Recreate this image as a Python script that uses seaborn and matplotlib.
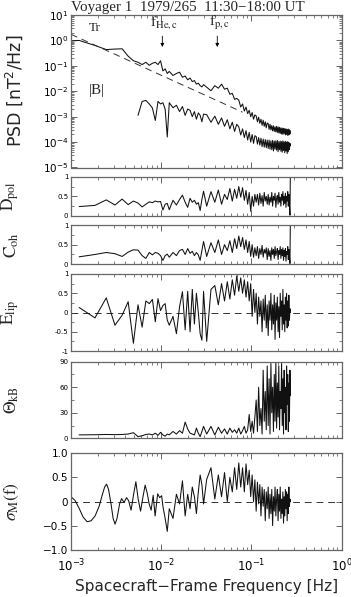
# Voyager 1 field spectra: trace/|B| PSD plus polarization diagnostics vs frequency

import numpy as np
import matplotlib
matplotlib.use("Agg")
import matplotlib.pyplot as plt
from matplotlib.ticker import LogLocator, NullFormatter, FixedLocator, FixedFormatter
import seaborn as sns

# ── 1. Data ──────────────────────────────────────────────────────────────────
BIN_WIDTH = 0.000615  # Hz, spacing of the spectral estimates

bins = [2, 3, 4, 5, 6, 7, 8, 9, 10, 11,
        12, 13, 14, 15, 16, 17, 18, 19, 20,
        22, 24, 26, 28, 30, 32, 34, 36, 38, 40, 42, 44, 46, 48,
        52, 58, 64, 70, 76, 82, 88, 94, 100, 106, 112,
        118, 124, 130, 136, 142, 148, 154, 160, 166, 172, 178,
        184, 190, 196, 202, 208, 214, 220, 226, 232, 238, 244,
        250, 256, 262, 268, 274, 280, 286, 292, 298, 304, 310,
        316, 322, 328, 334, 340, 346, 352, 358, 364, 370, 376,
        382, 388, 394, 400, 406, 412, 418, 424, 430, 436, 440]

# trace PSD (log10 nT^2/Hz); two extra points below the first bin
psd_lead_freq = [0.00100, 0.00111]
psd_lead_log = [-0.03, -0.01]
psd_trace_log = [0.00, -0.20, -0.36, -0.34, -0.33, -0.62, -0.80, -0.86, -0.95, -0.86,
                 -0.98, -0.90, -0.86, -0.95, -0.80, -1.20, -1.12, -1.30, -1.22,
                 -1.38, -1.30, -1.25, -1.45, -1.40, -1.55, -1.48, -1.62, -1.58, -1.72, -1.68, -1.78, -1.83, -1.74,
                 -1.84, -1.98, -1.78, -1.88, -1.72, -1.92, -1.88, -2.12, -2.08, -2.32, -2.28,
                 -2.35, -2.62, -2.50, -2.78, -2.62, -2.88, -2.75, -3.00, -2.84, -3.10, -2.93,
                 -2.97, -3.20, -3.02, -3.26, -3.10, -3.34, -3.14, -3.38, -3.20, -3.44, -3.25,
                 -3.27, -3.50, -3.30, -3.52, -3.35, -3.56, -3.36, -3.58, -3.40, -3.60, -3.38,
                 -3.62, -3.40, -3.64, -3.42, -3.66, -3.44, -3.68, -3.45, -3.70, -3.46, -3.66,
                 -3.47, -3.72, -3.48, -3.70, -3.50, -3.74, -3.49, -3.72, -3.52, -3.68, -3.55]

# |B| PSD (log10), starts at bin 9
psd_mag_log = [-2.95, -2.40, -2.36,
               -2.50, -2.66, -3.15, -2.40, -2.50, -2.45, -2.70, -3.80, -2.45,
               -2.65, -2.55, -2.80, -2.60, -2.95, -2.70, -2.75, -3.00, -2.80, -3.10, -2.85, -2.95, -3.20, -2.90,
               -2.92, -3.22, -2.98, -3.30, -3.05, -3.38, -3.12, -3.48, -3.22, -3.58, -3.30,
               -3.40, -3.72, -3.48, -3.82, -3.55, -3.92, -3.62, -4.00, -3.70, -4.05, -3.75,
               -3.78, -4.08, -3.82, -4.12, -3.85, -4.18, -3.88, -4.20, -3.90, -4.22, -3.92,
               -4.25, -3.92, -4.28, -3.95, -4.30, -3.93, -4.35, -3.96, -4.28, -3.95, -4.32,
               -3.94, -4.38, -3.98, -4.30, -3.96, -4.36, -3.98, -4.40, -3.95, -4.33, -3.99,
               -4.42, -3.97, -4.35, -4.00, -4.45, -3.98, -4.38, -4.02, -4.30, -4.05, -4.15]

# -5/3 reference line end points
ref_freq = [0.001, 0.08]
ref_psd = [1.74, 1.5e-3]

d_pol = [0.24, 0.27, 0.41, 0.28, 0.43, 0.29, 0.38, 0.33, 0.23, 0.30,
         0.36, 0.34, 0.38, 0.36, 0.37, 0.15, 0.30, 0.32, 0.16,
         0.40, 0.28, 0.42, 0.53, 0.35, 0.22, 0.45, 0.35, 0.40, 0.30, 0.34, 0.14, 0.42, 0.63,
         0.25, 0.62, 0.35, 0.66, 0.30, 0.55, 0.42, 0.70, 0.38, 0.68, 0.45,
         0.75, 0.48, 0.72, 0.40, 0.65, 0.30, 0.60, 0.12, 0.50, 0.25, 0.55,
         0.35, 0.55, 0.28, 0.58, 0.32, 0.52, 0.25, 0.60, 0.38, 0.50, 0.30,
         0.55, 0.28, 0.48, 0.35, 0.60, 0.25, 0.50, 0.40, 0.58, 0.22, 0.45,
         0.52, 0.30, 0.60, 0.35, 0.48, 0.25, 0.55, 0.40, 0.62, 0.28, 0.50,
         0.32, 0.58, 0.22, 0.50, 0.38, 0.62, 0.25, 0.55, 0.30, 0.02, 1.00]

c_oh = [0.19, 0.25, 0.30, 0.27, 0.20, 0.31, 0.37, 0.36, 0.22, 0.15,
        0.30, 0.24, 0.30, 0.28, 0.22, 0.10, 0.22, 0.26, 0.18,
        0.30, 0.22, 0.35, 0.38, 0.25, 0.40, 0.28, 0.33, 0.22, 0.30, 0.24, 0.10, 0.35, 0.58,
        0.20, 0.55, 0.30, 0.62, 0.25, 0.50, 0.35, 0.60, 0.30, 0.65, 0.40,
        0.72, 0.45, 0.68, 0.38, 0.62, 0.30, 0.58, 0.20, 0.50, 0.18, 0.42,
        0.22, 0.45, 0.15, 0.40, 0.25, 0.48, 0.18, 0.38, 0.28, 0.42, 0.12,
        0.40, 0.20, 0.35, 0.10, 0.42, 0.25, 0.38, 0.15, 0.45, 0.22, 0.32,
        0.40, 0.12, 0.35, 0.25, 0.45, 0.15, 0.38, 0.22, 0.42, 0.10, 0.35,
        0.20, 0.40, 0.08, 0.32, 0.25, 0.45, 0.12, 0.38, 0.22, 0.02, 1.00]

e_lip = [0.13, -0.14, 0.38, -0.33, -0.07, 0.28, -0.80, 0.20, -0.38, 0.30,
         0.23, 0.34, -0.24, 0.36, 0.05, 0.18, 0.23, -0.20, -0.33,
         -0.10, -0.55, 0.15, 0.54, -0.45, 0.55, -0.50, 0.60, -0.30, 0.50, 0.00, -0.55, -0.72, 0.55,
         -0.75, 0.60, 0.70, 0.20, 0.75, 0.30, 0.80, 0.35, 0.85, 0.45, 0.95,
         0.55, 0.90, 0.50, 0.85, 0.40, 0.80, 0.30, 0.75, -0.10, 0.60, 0.00,
         0.50, -0.30, 0.40, -0.10, 0.30, -0.50, 0.35, -0.20, 0.45, -0.40, 0.20,
         -0.60, 0.30, -0.20, 0.50, -0.45, 0.20, -0.30, 0.45, -0.70, 0.25, -0.20,
         0.40, -0.50, 0.15, -0.65, 0.50, -0.10, 0.30, -0.45, 0.60, -0.30, 0.20,
         -0.50, 0.40, -0.20, 0.50, -0.40, 0.30, -0.35, 0.45, -0.20, 0.10, 0.00]

theta_kb = [4.0, 4.2, 4.5, 4.3, 4.5, 5.0, 6.6, 2.0, 3.0, 4.5,
            5.0, 4.0, 6.0, 3.5, 7.0, 4.0, 2.5, 5.0, 4.0,
            8.0, 5.0, 9.0, 6.0, 19.0, 11.0, 6.0, 5.0, 4.0, 12.0, 6.0, 2.0, 8.0, 14.0,
            5, 14, 4, 13, 6, 11, 5, 12, 7, 10, 6,
            12, 5, 9, 14, 6, 10, 28, 8, 20, 6, 25,
            45, 8, 60, 15, 35, 5, 80, 20, 55, 10, 85,
            15, 70, 5, 88, 30, 60, 8, 75, 20, 90, 12,
            65, 25, 85, 10, 55, 35, 88, 15, 70, 5, 80,
            30, 60, 10, 85, 40, 75, 8, 65, 20, 80, 50]

# sigma_M: finely sampled low-frequency part, then the common bins from bin 17
sigma_lead_freq = [0.00100, 0.00111, 0.00123, 0.00136, 0.00151, 0.00167, 0.00185, 0.00205, 0.00221,
                   0.00236, 0.00248, 0.00261, 0.00278, 0.00293, 0.00308, 0.00324, 0.00346, 0.00364,
                   0.00388, 0.00413, 0.00435, 0.00464, 0.00495, 0.00524, 0.00556, 0.00591, 0.00622,
                   0.00664, 0.00699, 0.00736, 0.00774, 0.00815, 0.00857, 0.00914, 0.00963, 0.01013]
sigma_lead = [0.10, 0.02, -0.14, -0.32, -0.42, -0.40, -0.30, -0.10, 0.12,
              0.30, 0.36, 0.25, -0.05, -0.35, -0.47, -0.35, -0.05, 0.06,
              -0.02, 0.08, 0.02, -0.18, 0.15, 0.41, 0.05, -0.20, 0.05,
              0.34, 0.18, -0.05, -0.18, 0.13, -0.30, 0.16, 0.08, 0.12]
sigma_m = [-0.10, -0.35, -0.62, -0.15,
           -0.35, 0.15, -0.05, 0.43, -0.30, 0.15, -0.15, 0.30, 0.10, -0.25, 0.20, 0.55, 0.35, -0.05,
           0.46, 0.70, 0.05, 0.55, 0.10, 0.60, 0.00, 0.50, 0.20, 0.70, 0.25,
           0.80, 0.30, 0.70, 0.20, 0.78, 0.35, 0.65, 0.10, 0.55, 0.00, 0.45,
           -0.20, 0.40, -0.05, 0.35, -0.30, 0.30, -0.10, 0.25, -0.40, 0.20, -0.15,
           0.30, -0.35, 0.15, -0.25, 0.25, -0.50, 0.10, -0.20, 0.30, -0.30, 0.05,
           0.25, -0.40, 0.15, -0.20, 0.30, -0.35, 0.05, -0.25, 0.20, -0.45, 0.10,
           -0.30, 0.25, -0.15, 0.20, -0.40, 0.15, -0.25, 0.30, -0.10, 0.05, 0.00]

freq = np.array(bins) * BIN_WIDTH
psd_freq = np.concatenate([psd_lead_freq, freq])
psd_trace = 10 ** np.array(psd_lead_log + psd_trace_log)
mag_freq = freq[len(freq) - len(psd_mag_log):]
psd_mag = 10 ** np.array(psd_mag_log)
sigma_freq = np.concatenate([sigma_lead_freq, freq[len(freq) - len(sigma_m):]])
sigma_all = np.array(sigma_lead + sigma_m)

# ── 2. Style ─────────────────────────────────────────────────────────────────
sns.set_theme(style="ticks")
plt.rcParams["font.family"] = ["DejaVu Sans"]
plt.rcParams["mathtext.fontset"] = "dejavusans"

LINE = "#111111"
FRAME = "#666666"
SERIF = "Liberation Serif"
W_PX, H_PX = 351, 597

fig = plt.figure(figsize=(W_PX / 100, H_PX / 100), dpi=100)


def add_panel(top_px, bot_px):
    ax = fig.add_axes([71 / W_PX, 1 - bot_px / H_PX, 270.5 / W_PX, (bot_px - top_px) / H_PX])
    ax.set_xscale("log")
    ax.set_xlim(1e-3, 1)
    ax.xaxis.set_major_locator(LogLocator(base=10, numticks=10))
    ax.xaxis.set_minor_locator(LogLocator(base=10, subs=range(2, 10), numticks=10))
    ax.xaxis.set_minor_formatter(NullFormatter())
    ax.tick_params(which="both", direction="in", top=True, right=True,
                   color=FRAME, labelcolor="black", pad=2)
    ax.tick_params(which="major", length=4.5, width=0.7)
    ax.tick_params(which="minor", length=2.2, width=0.6)
    for s in ax.spines.values():
        s.set_color(FRAME)
        s.set_linewidth(0.9)
    return ax


def trace(ax, x, y, **kw):
    sns.lineplot(x=x, y=y, ax=ax, color=LINE, linewidth=0.75,
                 estimator=None, sort=False, **kw)


def lin_ticks(ax, major, labels, minor, size):
    ax.yaxis.set_major_locator(FixedLocator(major))
    ax.yaxis.set_major_formatter(FixedFormatter(labels))
    ax.yaxis.set_minor_locator(FixedLocator(minor))
    ax.yaxis.set_minor_formatter(NullFormatter())
    ax.tick_params(axis="y", labelsize=size)


def finish(ax, label, bottom=False, **kw):
    ax.set_xlabel("")
    ax.set_ylabel(label, **kw)
    ax.yaxis.set_label_coords(-0.185, 0.5)
    if not bottom:
        ax.tick_params(axis="x", labelbottom=False)


# ── 3. PSD panel ─────────────────────────────────────────────────────────────
ax = add_panel(15, 167.5)
trace(ax, psd_freq, psd_trace)
trace(ax, mag_freq, psd_mag)
sns.lineplot(x=ref_freq, y=ref_psd, ax=ax, color="#333333", linewidth=0.7,
             linestyle=(0, (7, 5)), estimator=None, sort=False)
ax.set_yscale("log")
ax.set_ylim(1e-5, 10)
ax.yaxis.set_major_locator(LogLocator(base=10, numticks=10))
ax.yaxis.set_minor_locator(LogLocator(base=10, subs=range(2, 10), numticks=10))
ax.yaxis.set_minor_formatter(NullFormatter())
ax.tick_params(axis="y", labelsize=7.5)
finish(ax, "PSD [nT$^2$/Hz]", fontsize=12.5)
ax.yaxis.set_label_coords(-0.17, 0.5)

ax.text(1.85e-3, 10 ** 0.49, "Tr", family=SERIF, fontsize=9.5, ha="center", va="center")
ax.text(1.95e-3, 0.011, "|B|", family=SERIF, fontsize=11, ha="center", va="center")
for f_c, name in [(0.0103, r"$\mathrm{f_{He,c}}$"), (0.0419, r"$\mathrm{f_{p,c}}$")]:
    ax.annotate("", xy=(f_c, 10 ** -0.26), xytext=(f_c, 10 ** 0.17),
                arrowprops=dict(arrowstyle="-|>", lw=0.6, color="black",
                                mutation_scale=5, shrinkA=0, shrinkB=0))
    ax.text(f_c * 1.05, 10 ** 0.70, name, math_fontfamily="stix", fontsize=11,
            ha="center", va="center")

fig.text(71 / W_PX, 1 - 11 / H_PX, "Voyager 1  1979/265  11:30\u221218:00 UT",
         family=SERIF, fontsize=10.8, ha="left", va="baseline")

# ── 4. D_pol and C_oh ────────────────────────────────────────────────────────
ax = add_panel(176.7, 216)
trace(ax, freq, d_pol)
ax.set_ylim(0, 1)
lin_ticks(ax, [0, 0.5, 1], ["0", "0.5", "1"], [0.25, 0.75], 5)
finish(ax, r"$\mathrm{D_{pol}}$", math_fontfamily="stix", fontsize=12.5)

ax = add_panel(225, 264.3)
trace(ax, freq, c_oh)
ax.set_ylim(0, 1)
lin_ticks(ax, [0, 0.5, 1], ["0", "0.5", "1"], [0.25, 0.75], 5)
finish(ax, r"$\mathrm{C_{oh}}$", math_fontfamily="stix", fontsize=12.5)

# ── 5. Ellipticity ───────────────────────────────────────────────────────────
ax = add_panel(274, 351)
ax.axhline(0, color="#333333", linewidth=0.7, linestyle=(0, (7, 5)))
trace(ax, freq, e_lip)
ax.set_ylim(-1, 1)
lin_ticks(ax, [-1, -0.5, 0, 0.5, 1], ["-1", "-0.5", "0", "0.5", "1"],
          [-0.75, -0.25, 0.25, 0.75], 5)
finish(ax, r"$\mathrm{E_{lip}}$", math_fontfamily="stix", fontsize=12.5)

# ── 6. Theta_kB ──────────────────────────────────────────────────────────────
ax = add_panel(361.7, 438.3)
trace(ax, freq, theta_kb)
ax.set_ylim(0, 90)
lin_ticks(ax, [0, 30, 60, 90], ["0", "30", "60", "90"], [15, 45, 75], 5)
finish(ax, r"$\Theta_{\mathrm{kB}}$", math_fontfamily="stix", fontsize=12.5)

# ── 7. Magnetic helicity ─────────────────────────────────────────────────────
ax = add_panel(453.3, 549.7)
ax.axhline(0, color="#333333", linewidth=0.7, linestyle=(0, (7, 5)))
trace(ax, sigma_freq, sigma_all)
ax.set_ylim(-1, 1)
lin_ticks(ax, [-1, -0.5, 0, 0.5, 1], ["\u22121.0", "\u22120.5", "0", "0.5", "1.0"], [], 7.5)
ax.tick_params(axis="x", labelsize=8.5, pad=6)
finish(ax, r"$\sigma_{\mathrm{M}}\mathrm{(f)}$", bottom=True, math_fontfamily="stix", fontsize=12.5)
ax.set_xlabel("Spacecraft\u2212Frame Frequency [Hz]", fontsize=11, labelpad=3)

fig.savefig("out.png", dpi=100)
plt.close(fig)
